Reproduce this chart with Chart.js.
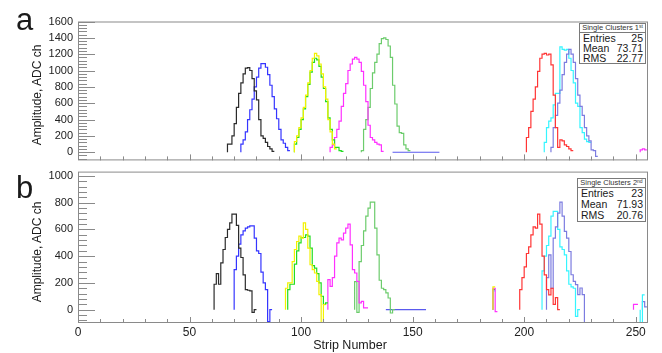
<!DOCTYPE html>
<html>
<head>
<meta charset="utf-8">
<script src="https://cdn.jsdelivr.net/npm/chart.js@4.4.0/dist/chart.umd.min.js"></script>
<style>
  body { margin:0; background:#fff; width:662px; height:353px; overflow:hidden; position:relative;
         font-family:"Liberation Sans", Arial, sans-serif; color:#1a1a1a; }
  canvas { position:absolute; left:0; }
  #chartA { top:0; }
  #chartB { top:160px; }
  .txt { position:absolute; white-space:nowrap; }
  .panel { font-size:31px; line-height:1; }
  .ytitle { font-size:12px; transform:translate(-50%,-50%) rotate(-90deg); }
  .xtitle { font-size:12.5px; transform:translate(-50%,-50%); }
  .stats { position:absolute; box-sizing:border-box; border:1px solid #7a7a7a; background:#fff; overflow:hidden; }
  .stats .head { font-size:7.5px; color:#333; text-align:center; border-bottom:1px solid #7a7a7a; overflow:hidden; box-sizing:border-box; }
  .stats .head .sup { font-size:5px; position:relative; top:-2.5px; }
  .stats .row { display:flex; justify-content:space-between; font-size:10.5px; padding:0 2px 0 3px; overflow:hidden; }
</style>
</head>
<body>
<canvas id="chartA" width="662" height="172"></canvas>
<canvas id="chartB" width="662" height="193"></canvas>

<div class="txt panel" style="left:16px;top:4px">a</div>
<div class="txt panel" style="left:16px;top:172px">b</div>
<div class="txt ytitle" style="left:37px;top:95px">Amplitude, ADC ch</div>
<div class="txt ytitle" style="left:37px;top:252px">Amplitude, ADC ch</div>
<div class="txt xtitle" style="left:350px;top:345px">Strip Number</div>

<div class="stats" style="left:579px;top:23px;width:67px;height:41px">
  <div class="head" style="height:9px;line-height:8px">Single Clusters 1<span class="sup">st</span></div>
  <div class="row" style="height:10px;line-height:10px"><span>Entries</span><span>25</span></div>
  <div class="row" style="height:10px;line-height:10px"><span>Mean</span><span>73.71</span></div>
  <div class="row" style="height:10px;line-height:10px"><span>RMS</span><span>22.77</span></div>
</div>
<div class="stats" style="left:577px;top:178px;width:69px;height:44px">
  <div class="head" style="height:9px;line-height:8px">Single Clusters 2<span class="sup">nd</span></div>
  <div class="row" style="height:11px;line-height:11px"><span>Entries</span><span>23</span></div>
  <div class="row" style="height:11px;line-height:11px"><span>Mean</span><span>71.93</span></div>
  <div class="row" style="height:11px;line-height:11px"><span>RMS</span><span>20.76</span></div>
</div>

<script>
// tick labels
const xTicks = [0, 50, 100, 150, 200, 250];
const yTicksA = [0, 200, 400, 600, 800, 1000, 1200, 1400, 1600];
const yTicksB = [0, 200, 400, 600, 800, 1000];

// panel a: first strip of each histogram, then amplitude per strip
const aBlackStart = 67;
const aBlack = [100,100,200,350,550,720,850,960,1030,1035,1000,900,750,640,400,200,170,120,70,40,10];
const aBlueStart = 73;
const aBlue = [100,150,250,400,520,650,800,920,1030,1085,1085,1040,950,820,680,530,410,280,150,110,60,20];
const aYellowStart = 97;
const aYellow = [130,200,300,420,550,700,850,1000,1150,1210,1180,1080,960,800,650,400,250,100,40];
const aGreenStart = 97;
const aGreen = [100,180,280,400,530,680,830,980,1100,1150,1130,1050,920,780,620,420,280,150,60,60,20,10];
const aMagentaStart = 113;
const aMagenta = [60,90,180,280,380,560,720,840,1000,1080,1140,1160,1140,1100,990,820,620,330,180,150,120,100,90,10];
const aGreen2Start = 127;
const aGreen2 = [20,280,400,550,780,970,1100,1200,1330,1390,1400,1380,1300,1160,820,590,320,240,230,90,40,20];
const aFlatStart = 141;
const aFlat = [0,0,0,0,0,0,0,0,0,0,0,0,0,0,0,0,0,0,0,0,0];
const aRedStart = 201;
const aRed = [180,300,500,650,800,990,1150,1200,1210,1190,1200,1070,700,300,60,150,140,90,70,40,20];
const aCyanStart = 209;
const aCyan = [120,300,380,420,580,720,720,1290,1260,1250,1260,1150,1000,850,600,560,300,240,160,130,120];
const aVioletStart = 212;
const aViolet = [60,300,450,600,760,950,1100,1200,1260,1200,1100,900,700,560,450,300,200,140,30,20,-50];
const aMagenta2Start = 252;
const aMagenta2 = [30,40,30];

// panel b
const bBlackStart = 61;
const bBlack = [190,270,190,350,450,540,600,650,715,715,630,460,390,260,150,145,140,-20,0];
const bBlueStart = 70;
const bBlue = [300,400,490,560,590,610,620,627,627,535,440,420,280,200,150,-90,0];
const bYellowStart = 93;
const bYellow = [160,200,200,360,450,510,550,535,650,600,460,336,300,274,211,112,-97,37];
const bGreenStart = 94;
const bGreen = [150,190,190,340,440,500,540,540,560,550,460,330,310,270,200,100,40,50];
const bMagentaStart = 112;
const bMagenta = [224,174,240,400,500,535,522,572,610,640,485,299,274,211,50,62,13,13];
const bGreen2Start = 124;
const bGreen2 = [210,-20,360,480,590,700,760,805,805,610,410,220,160,150,125,87,-25,0];
const bFlatStart = 138;
const bFlat = [0,0,0,0,0,0,0,0,0,0,0,0,0,0,0,0,0,0];
const bBitsStart = 186;
const bBitGreen = [150];
const bBitYellow = [170];
const bBitMagenta = [160,-15];
const bBitCyan = [140];
const bRedStart = 198;
const bRed = [150,240,320,420,470,560,620,610,715,640,400,260,150,110,160,40,90,0];
const bCyanStart = 208;
const bCyan = [290,400,480,550,700,735,735,600,470,450,410,290,190,170,160,-50,0];
const bVioletStart = 210;
const bViolet = [240,410,160,535,620,722,804,700,585,535,435,261,211,187,112,162,112,-100];
const bEndMagentaStart = 249;
const bEndMagenta = [40,40];
const bEndCyanStart = 252;
const bEndCyan = [-100,110];
const bEndVioletStart = 253;
const bEndViolet = [60,20];

const col = {
  black:'#2b2b2b', blue:'#3535ff', yellow:'#f2f200', green:'#22dd22', magenta:'#ff30ff',
  green2:'#6ccc6c', flat:'#5a5aee', red:'#ff3535', cyan:'#35f5ff', violet:'#7c7ce0'
};

function toPoints(start, vals) {
  const pts = [{x:start, y:0}];
  vals.forEach((v, i) => pts.push({x:start + i, y:v}));
  pts.push({x:start + vals.length, y:vals[vals.length - 1]});
  return pts;
}
function hist(start, vals, color) {
  return { data: toPoints(start, vals), borderColor: color, borderWidth: 1.2,
           stepped: 'before', pointRadius: 0, fill: false, tension: 0 };
}

const FONT = "'Liberation Sans', Arial, sans-serif";

// gray frame plus ROOT-style ticks pointing inwards
const frameTicks = {
  id: 'frameTicks',
  afterDatasetsDraw(chart) {
    const {ctx, chartArea: a, scales: {x, y}} = chart;
    ctx.save();
    ctx.strokeStyle = '#8a8a8a';
    ctx.lineWidth = 1;
    ctx.strokeRect(a.left + 0.5, a.top + 0.5, a.right - a.left - 1, a.bottom - a.top - 1);
    ctx.beginPath();
    for (let v = Math.ceil(y.min / 40) * 40; v <= y.max; v += 40) {
      const py = Math.round(y.getPixelForValue(v)) + 0.5;
      const len = (v % 200 === 0) ? 17 : 9;
      ctx.moveTo(a.left, py); ctx.lineTo(a.left + len, py);
    }
    for (let v = 10; v < x.max; v += 10) {
      const px = Math.round(x.getPixelForValue(v)) + 0.5;
      const len = (v % 50 === 0) ? 6 : 4;
      ctx.moveTo(px, a.bottom); ctx.lineTo(px, a.bottom - len);
    }
    ctx.stroke();
    ctx.restore();
  }
};

function yScale(min, max, ticks) {
  return {
    min: min, max: max,
    afterFit(s) { s.width = 78; },
    afterBuildTicks(s) { s.ticks = ticks.map(v => ({value: v})); },
    grid: {display: false, drawTicks: false},
    border: {display: false},
    ticks: {font: {size: 11, family: FONT}, color: '#222', padding: 5, callback: v => String(v)}
  };
}

new Chart(document.getElementById('chartA'), {
  type: 'line',
  data: {datasets: [
    hist(aBlackStart, aBlack, col.black),
    hist(aBlueStart, aBlue, col.blue),
    hist(aYellowStart, aYellow, col.yellow),
    hist(aGreenStart, aGreen, col.green),
    hist(aMagentaStart, aMagenta, col.magenta),
    hist(aGreen2Start, aGreen2, col.green2),
    hist(aFlatStart, aFlat, col.flat),
    hist(aRedStart, aRed, col.red),
    hist(aVioletStart, aViolet, col.violet),
    hist(aCyanStart, aCyan, col.cyan),
    hist(aMagenta2Start, aMagenta2, col.magenta)
  ]},
  options: {
    responsive: false, animation: false,
    layout: {padding: {top: 21.5, right: 14, bottom: 3, left: 0}},
    plugins: {legend: {display: false}, tooltip: {enabled: false}},
    scales: {
      x: {type: 'linear', min: 0, max: 255.5, display: false},
      y: yScale(-100, 1600, yTicksA)
    }
  },
  plugins: [frameTicks]
});

new Chart(document.getElementById('chartB'), {
  type: 'line',
  data: {datasets: [
    hist(bBlackStart, bBlack, col.black),
    hist(bBlueStart, bBlue, col.blue),
    hist(bYellowStart, bYellow, col.yellow),
    hist(bGreenStart, bGreen, col.green),
    hist(bMagentaStart, bMagenta, col.magenta),
    hist(bGreen2Start, bGreen2, col.green2),
    hist(bFlatStart, bFlat, col.flat),
    hist(bBitsStart, bBitYellow, col.yellow),
    hist(bBitsStart, bBitMagenta, col.magenta),
    hist(bBitsStart, bBitCyan, col.cyan),
    hist(bBitsStart, bBitGreen, col.green),
    hist(bRedStart, bRed, col.red),
    hist(bVioletStart, bViolet, col.violet),
    hist(bCyanStart, bCyan, col.cyan),
    hist(bEndMagentaStart, bEndMagenta, col.magenta),
    hist(bEndCyanStart, bEndCyan, col.cyan),
    hist(bEndVioletStart, bEndViolet, col.violet)
  ]},
  options: {
    responsive: false, animation: false,
    layout: {padding: {top: 11.5, right: 14, bottom: 0, left: 0}},
    plugins: {legend: {display: false}, tooltip: {enabled: false}},
    scales: {
      x: {
        type: 'linear', min: 0, max: 255.5,
        afterFit(s) { s.height = 30; },
        afterBuildTicks(s) { s.ticks = xTicks.map(v => ({value: v})); },
        grid: {display: false, drawTicks: false},
        border: {display: false},
        ticks: {font: {size: 12, family: FONT}, color: '#222', padding: 2, maxRotation: 0, autoSkip: false,
                callback: v => String(v)}
      },
      y: yScale(-100, 1033, yTicksB)
    }
  },
  plugins: [frameTicks]
});
</script>
</body>
</html>
